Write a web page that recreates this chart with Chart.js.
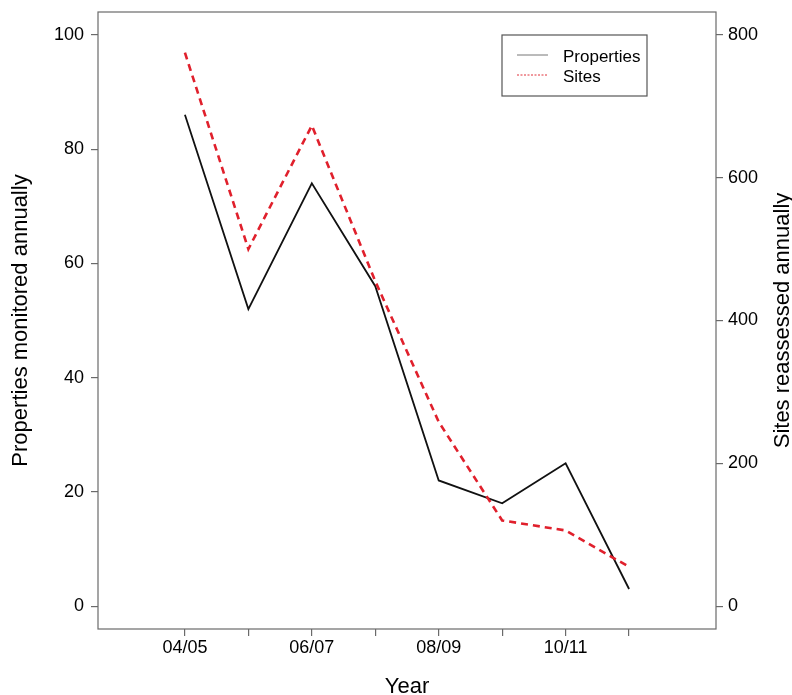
<!DOCTYPE html>
<html>
<head>
<meta charset="utf-8">
<script src="https://cdn.jsdelivr.net/npm/chart.js@4.4.1/dist/chart.umd.min.js"></script>
<style>
  html, body { margin: 0; padding: 0; background: #ffffff; }
  #wrap { width: 792px; height: 695px; position: relative; }
</style>
</head>
<body>
<div id="wrap"><canvas id="c" width="792" height="695"></canvas></div>
<script>
// ---- data ----
const categories = ["04/05", "05/06", "06/07", "07/08", "08/09", "09/10", "10/11", "11/12"];
const properties = [86, 52, 74, 56, 22, 18, 25, 3];
const sites = [775, 500, 673, 455, 258, 120, 106, 55];
const leftTicks = [0, 20, 40, 60, 80, 100];
const rightTicks = [0, 200, 400, 600, 800];
const seriesNames = ["Properties", "Sites"];
const axisTitles = { x: "Year", y: "Properties monitored annually", y1: "Sites reassessed annually" };

const FONT = "'Liberation Sans', Arial, Helvetica, sans-serif";
const TICK_COLOR = '#6a6a6a';

const framePlugin = {
  id: 'frame',
  afterDraw(chart) {
    const { ctx, chartArea: a } = chart;
    ctx.save();
    // plot box
    ctx.strokeStyle = TICK_COLOR;
    ctx.lineWidth = 1.2;
    ctx.strokeRect(a.left, a.top, a.right - a.left, a.bottom - a.top);

    // axis titles
    ctx.fillStyle = '#000';
    ctx.font = '22px ' + FONT;
    ctx.textAlign = 'center';
    ctx.textBaseline = 'alphabetic';
    const cy = (a.top + a.bottom) / 2;
    ctx.save();
    ctx.translate(27, cy);
    ctx.rotate(-Math.PI / 2);
    ctx.fillText(axisTitles.y, 0, 0);
    ctx.restore();
    ctx.save();
    ctx.translate(789, cy);
    ctx.rotate(-Math.PI / 2);
    ctx.fillText(axisTitles.y1, 0, 0);
    ctx.restore();
    ctx.fillText(axisTitles.x, (a.left + a.right) / 2, 693);

    // legend
    const lx = 502, ly = 35, lw = 145, lh = 61;
    ctx.fillStyle = '#fff';
    ctx.fillRect(lx, ly, lw, lh);
    ctx.strokeStyle = '#555';
    ctx.lineWidth = 1.2;
    ctx.strokeRect(lx, ly, lw, lh);
    ctx.font = '17px ' + FONT;
    ctx.textAlign = 'left';
    chart.data.datasets.forEach((ds, i) => {
      const y = 55 + i * 20;
      ctx.beginPath();
      ctx.strokeStyle = i === 0 ? '#777' : '#e0303a';
      ctx.lineWidth = 1;
      ctx.setLineDash(i === 0 ? [] : [2, 1.5]);
      ctx.moveTo(517, y);
      ctx.lineTo(548, y);
      ctx.stroke();
      ctx.setLineDash([]);
      ctx.fillStyle = '#000';
      ctx.fillText(ds.label, 563, y + 6.5);
    });
    ctx.restore();
  }
};

function zeroPad(scale) {
  scale.paddingTop = 0; scale.paddingBottom = 0;
  scale.paddingLeft = 0; scale.paddingRight = 0;
}

new Chart(document.getElementById('c'), {
  type: 'line',
  data: {
    datasets: [
      {
        label: seriesNames[0],
        data: categories.map((c, i) => ({ x: i, y: properties[i] })),
        borderColor: '#111111',
        borderWidth: 1.8,
        pointRadius: 0,
        tension: 0,
        fill: false,
        yAxisID: 'y',
        order: 2
      },
      {
        label: seriesNames[1],
        data: categories.map((c, i) => ({ x: i, y: sites[i] })),
        borderColor: '#e0202c',
        borderWidth: 2.6,
        borderDash: [7, 5],
        pointRadius: 0,
        tension: 0,
        fill: false,
        yAxisID: 'y1',
        order: 1
      }
    ]
  },
  options: {
    responsive: false,
    animation: false,
    devicePixelRatio: 1,
    layout: { padding: { top: 12, left: 0, right: 0, bottom: 0 } },
    plugins: { legend: { display: false }, tooltip: { enabled: false } },
    scales: {
      x: {
        type: 'linear',
        position: 'bottom',
        min: -1.37,
        max: 8.37,
        afterBuildTicks(scale) { scale.ticks = categories.map((c, i) => ({ value: i })); },
        afterFit(scale) { scale.height = 66; zeroPad(scale); },
        ticks: {
          autoSkip: false,
          maxRotation: 0,
          padding: 1,
          color: '#000',
          font: { family: FONT, size: 18 },
          callback: (v) => (v % 2 === 0 ? categories[v] : '')
        },
        grid: { drawOnChartArea: false, drawTicks: true, tickLength: 7, color: TICK_COLOR, lineWidth: 1.2 },
        border: { display: false }
      },
      y: {
        type: 'linear',
        position: 'left',
        min: -4,
        max: 104,
        afterBuildTicks(scale) { scale.ticks = leftTicks.map(v => ({ value: v })); },
        afterFit(scale) { scale.width = 98; zeroPad(scale); },
        ticks: { padding: 7, color: '#000', font: { family: FONT, size: 18 } },
        grid: { drawOnChartArea: false, drawTicks: true, tickLength: 7, color: TICK_COLOR, lineWidth: 1.2 },
        border: { display: false }
      },
      y1: {
        type: 'linear',
        position: 'right',
        min: -32,
        max: 832,
        afterBuildTicks(scale) { scale.ticks = rightTicks.map(v => ({ value: v })); },
        afterFit(scale) { scale.width = 76; zeroPad(scale); },
        ticks: { padding: 5, color: '#000', font: { family: FONT, size: 18 } },
        grid: { drawOnChartArea: false, drawTicks: true, tickLength: 7, color: TICK_COLOR, lineWidth: 1.2 },
        border: { display: false }
      }
    }
  },
  plugins: [framePlugin]
});
</script>
</body>
</html>
